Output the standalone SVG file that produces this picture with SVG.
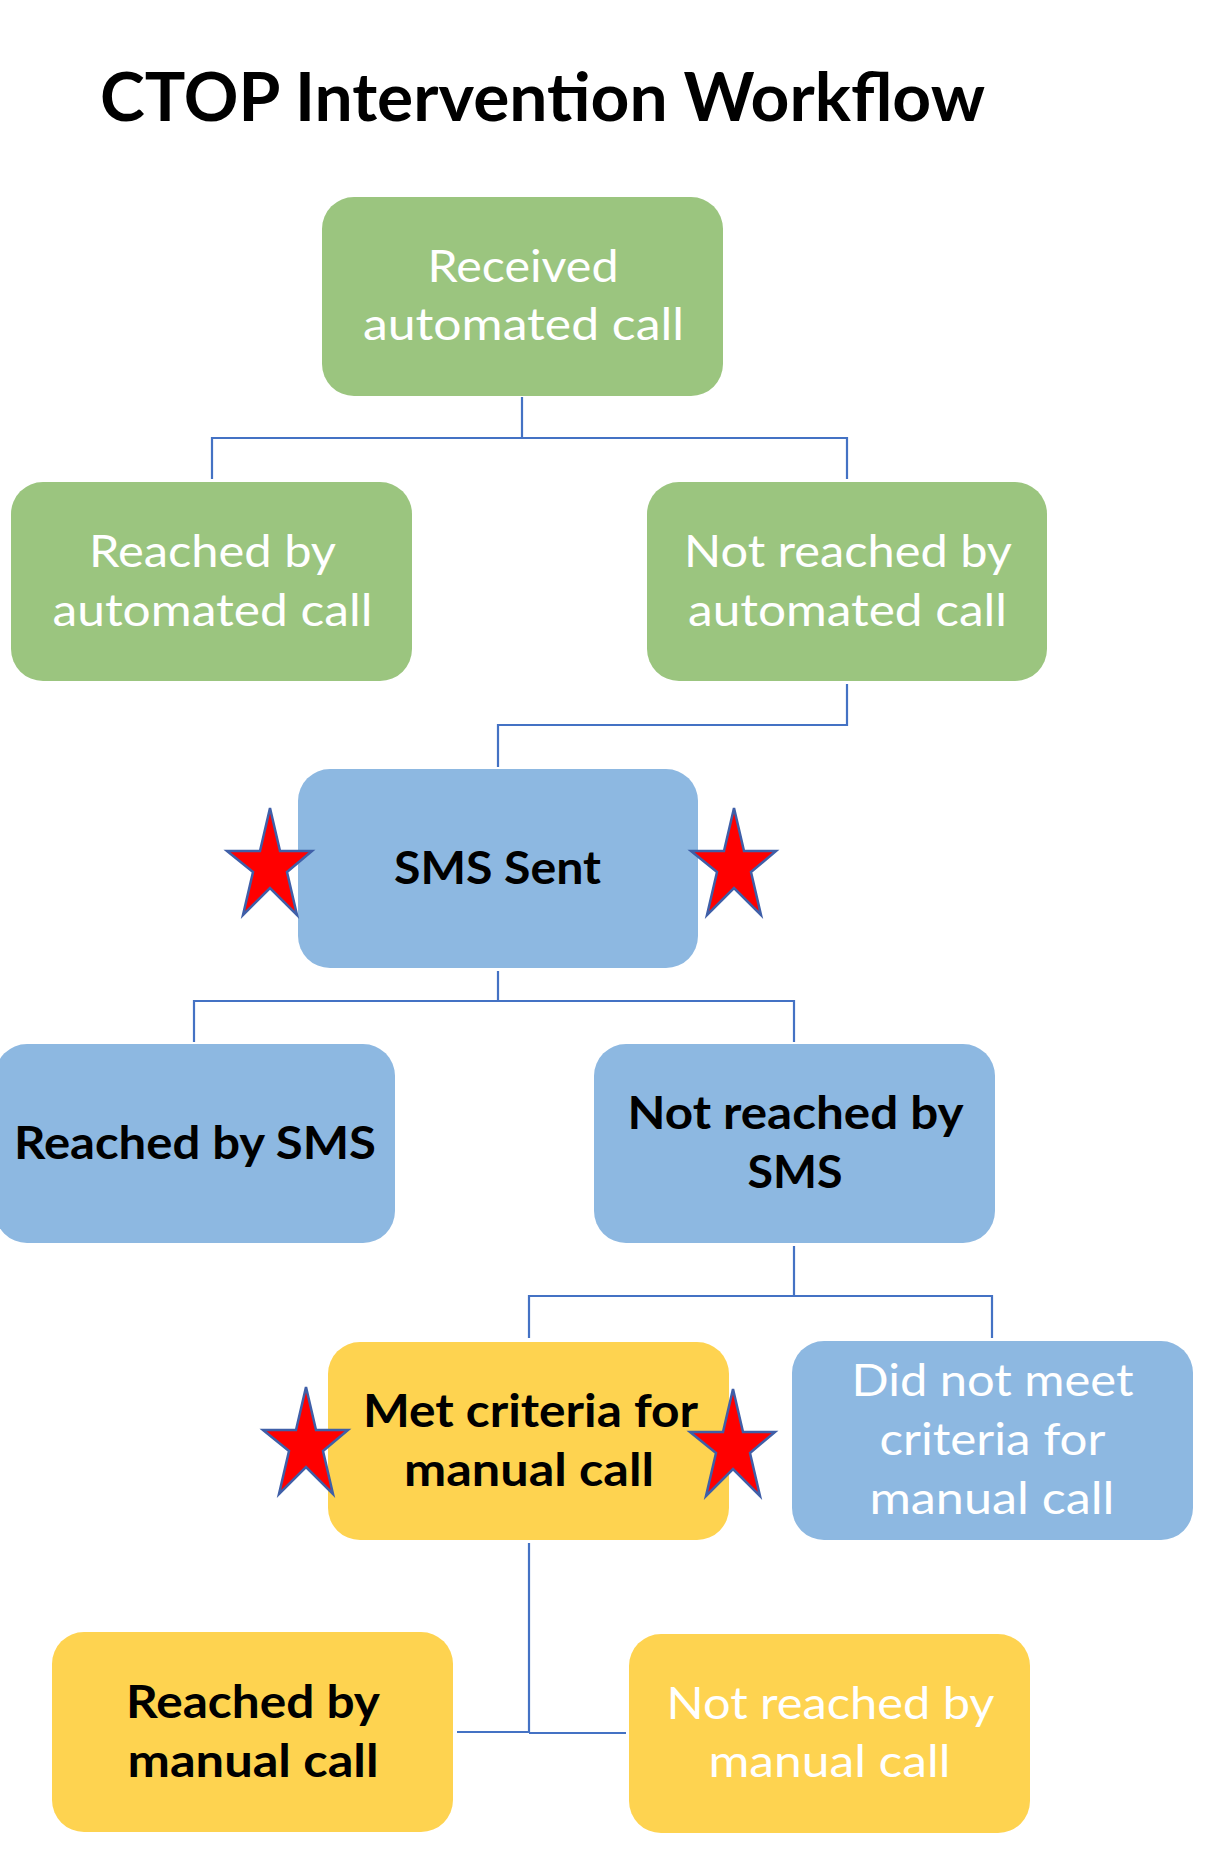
<svg xmlns="http://www.w3.org/2000/svg" xmlns:xlink="http://www.w3.org/1999/xlink" width="1212" height="1860" viewBox="0 0 1212 1860">
<style>
  .green { fill: #9BC57F; }
  .blue { fill: #8DB8E1; }
  .yellow { fill: #FED350; }
  .t { font-family: Lato, "Open Sans", "Liberation Sans", sans-serif; font-size: 45px; text-anchor: middle; }
  .w { fill: #FFFFFF; font-weight: 400; }
  .b { fill: #000000; font-weight: 700; }
  .title { font-family: Lato, "Open Sans", "Liberation Sans", sans-serif; font-size: 67px; font-weight: 700; fill: #000000; }
  .conn { fill: none; stroke: #4472C4; stroke-width: 2.2; }
  .star { fill: #FF0000; stroke: #3F5FA8; stroke-width: 2.5; stroke-linejoin: miter; }
</style>
<defs>
  <polygon id="star" points="0,0 10,43 42,43 17,64 27,107 0,80 -27,107 -17,64 -43,43 -10,43"/>
</defs>
<rect width="1212" height="1860" fill="#FFFFFF"/>
<text class="title" x="100" y="121" textLength="885" lengthAdjust="spacingAndGlyphs">CTOP Intervention Workflow</text>

<g id="connectors">
  <path class="conn" d="M522 397 V438 M212 479 V438 H847 V479"/>
  <path class="conn" d="M847 684 V725 H498 V767"/>
  <path class="conn" d="M498 971 V1001 M194 1042 V1001 H794 V1042"/>
  <path class="conn" d="M794 1246 V1296 M529 1338 V1296 H992 V1338"/>
  <path class="conn" d="M529 1543 V1733 M457 1732 H529 M529 1733 H626"/>
</g>

<g id="received-automated-call">
  <rect class="green" x="322" y="197" width="401" height="199" rx="32" ry="32"/>
  <text class="t w" x="523" y="282" textLength="191" lengthAdjust="spacingAndGlyphs">Received</text>
  <text class="t w" x="523.5" y="340" textLength="321" lengthAdjust="spacingAndGlyphs">automated call</text>
</g>

<g id="reached-by-automated-call">
  <rect class="green" x="11" y="482" width="401" height="199" rx="32" ry="32"/>
  <text class="t w" x="212.5" y="567" textLength="247" lengthAdjust="spacingAndGlyphs">Reached by</text>
  <text class="t w" x="212.5" y="626" textLength="320" lengthAdjust="spacingAndGlyphs">automated call</text>
</g>

<g id="not-reached-by-automated-call">
  <rect class="green" x="647" y="482" width="400" height="199" rx="32" ry="32"/>
  <text class="t w" x="848" y="567" textLength="328" lengthAdjust="spacingAndGlyphs">Not reached by</text>
  <text class="t w" x="847.5" y="626" textLength="319" lengthAdjust="spacingAndGlyphs">automated call</text>
</g>

<g id="sms-sent">
  <rect class="blue" x="298" y="769" width="400" height="199" rx="32" ry="32"/>
  <text class="t b" x="497.5" y="884" textLength="207" lengthAdjust="spacingAndGlyphs">SMS Sent</text>
  <use xlink:href="#star" class="star" x="270" y="808"/>
  <use xlink:href="#star" class="star" x="734" y="808"/>
</g>

<g id="reached-by-sms">
  <rect class="blue" x="-5" y="1044" width="400" height="199" rx="32" ry="32"/>
  <text class="t b" x="195" y="1159" textLength="362" lengthAdjust="spacingAndGlyphs">Reached by SMS</text>
</g>

<g id="not-reached-by-sms">
  <rect class="blue" x="594" y="1044" width="401" height="199" rx="32" ry="32"/>
  <text class="t b" x="795.5" y="1129" textLength="336" lengthAdjust="spacingAndGlyphs">Not reached by</text>
  <text class="t b" x="795" y="1188" textLength="95" lengthAdjust="spacingAndGlyphs">SMS</text>
</g>

<g id="met-criteria-for-manual-call">
  <rect class="yellow" x="328" y="1342" width="401" height="198" rx="32" ry="32"/>
  <text class="t b" x="530.5" y="1427" textLength="335" lengthAdjust="spacingAndGlyphs">Met criteria for</text>
  <text class="t b" x="529" y="1486" textLength="250" lengthAdjust="spacingAndGlyphs">manual call</text>
  <use xlink:href="#star" class="star" x="306" y="1387"/>
  <use xlink:href="#star" class="star" x="733" y="1389"/>
</g>

<g id="did-not-meet-criteria">
  <rect class="blue" x="792" y="1341" width="401" height="199" rx="32" ry="32"/>
  <text class="t w" x="992.5" y="1396" textLength="282" lengthAdjust="spacingAndGlyphs">Did not meet</text>
  <text class="t w" x="992.5" y="1455" textLength="226" lengthAdjust="spacingAndGlyphs">criteria for</text>
  <text class="t w" x="992" y="1514" textLength="245" lengthAdjust="spacingAndGlyphs">manual call</text>
</g>

<g id="reached-by-manual-call">
  <rect class="yellow" x="52" y="1632" width="401" height="200" rx="32" ry="32"/>
  <text class="t b" x="253" y="1718" textLength="254" lengthAdjust="spacingAndGlyphs">Reached by</text>
  <text class="t b" x="253" y="1777" textLength="251" lengthAdjust="spacingAndGlyphs">manual call</text>
</g>

<g id="not-reached-by-manual-call">
  <rect class="yellow" x="629" y="1634" width="401" height="199" rx="32" ry="32"/>
  <text class="t w" x="830.5" y="1719" textLength="328" lengthAdjust="spacingAndGlyphs">Not reached by</text>
  <text class="t w" x="829.5" y="1777" textLength="242" lengthAdjust="spacingAndGlyphs">manual call</text>
</g>
</svg>
